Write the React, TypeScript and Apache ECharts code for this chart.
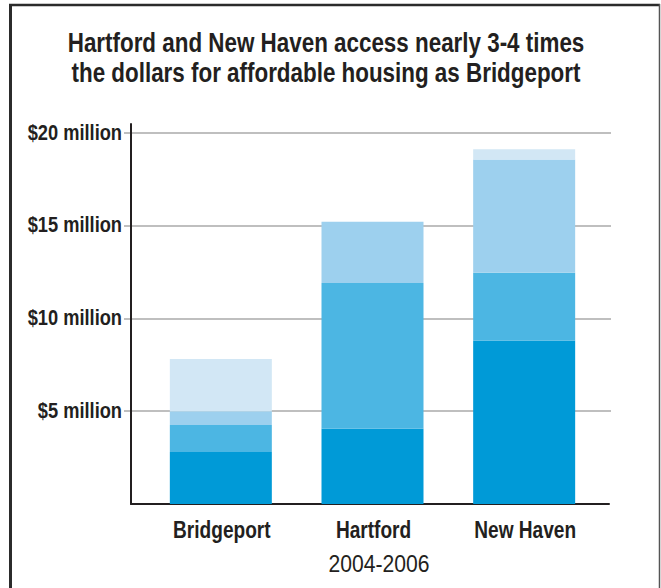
import React, { useEffect, useRef } from "react";
import * as echarts from "echarts";

const categories = ["Bridgeport", "Hartford", "New Haven"];
const seriesNames = ["Source 1", "Source 2", "Source 3", "Source 4"];
const seg1 = [2.8, 4.05, 8.8];
const seg2 = [1.45, 7.85, 3.65];
const seg3 = [0.75, 3.3, 6.1];
const seg4 = [2.8, 0, 0.55];
const yTicks = [0, 5, 10, 15, 20];
const yTickLabels = ["", "$5 million", "$10 million", "$15 million", "$20 million"];
const titleLines = [
  "Hartford and New Haven access nearly 3-4 times",
  "the dollars for affordable housing as Bridgeport",
];
const xAxisCaption = "2004-2006";

const colors = ["#009ad7", "#4cb6e3", "#9dd0ee", "#d2e7f5"];
const FONT = "'Liberation Sans', Arial, sans-serif";
const INK = "#231f20";
const CONDENSE = 0.83;

export default function App() {
  const ref = useRef<HTMLDivElement>(null);
  useEffect(() => {
    if (!ref.current) return;
    const chart = echarts.init(ref.current, undefined, { renderer: "svg" });
    const data = [seg1, seg2, seg3, seg4];
    chart.setOption({
      animation: false,
      backgroundColor: "#ffffff",
      grid: [
        { left: 145, right: 61, top: 132.5, bottom: 84 },
        { left: 124, right: 50, top: 132.5, bottom: 84 },
        { left: 131, right: 52, top: 124, bottom: 84 },
      ],
      xAxis: [
        {
          type: "category",
          gridIndex: 0,
          data: categories,
          axisLine: { show: false },
          axisTick: { show: false },
          axisLabel: { show: false },
        },
        { type: "value", gridIndex: 1, show: false },
        {
          type: "value",
          gridIndex: 2,
          axisLine: { show: true, onZero: false, lineStyle: { color: INK, width: 2 } },
          axisTick: { show: false },
          axisLabel: { show: false },
          splitLine: { show: false },
        },
      ],
      yAxis: [
        { type: "value", gridIndex: 0, min: 0, max: 20, show: false },
        {
          type: "value",
          gridIndex: 1,
          min: 0,
          max: 20,
          interval: 5,
          axisLine: { show: false },
          axisTick: { show: false },
          axisLabel: { show: false },
          splitLine: {
            show: true,
            lineStyle: {
              color: yTicks.map((t) => (t === 0 ? "rgba(0,0,0,0)" : "#aaaaaa")),
              width: 1.5,
            },
          },
        },
        {
          type: "value",
          gridIndex: 2,
          axisLine: { show: true, lineStyle: { color: INK, width: 2 } },
          axisTick: { show: false },
          axisLabel: { show: false },
          splitLine: { show: false },
        },
      ],
      series: data.map((d, i) => ({
        name: seriesNames[i],
        type: "bar",
        stack: "total",
        xAxisIndex: 0,
        yAxisIndex: 0,
        barWidth: 102,
        itemStyle: { color: colors[i] },
        data: d,
        z: 3,
      })),
    });

    const graphics: any[] = [];
    // condensed title lines
    titleLines.forEach((line, i) => {
      graphics.push({
        type: "text",
        x: 326,
        y: 42.5 + i * 30,
        scaleX: CONDENSE,
        style: {
          text: line,
          fontFamily: FONT,
          fontWeight: "bold",
          fontSize: 27,
          fill: INK,
          align: "center",
          verticalAlign: "middle",
        },
      });
    });
    // y tick labels placed through the axis scale
    yTicks.forEach((t, i) => {
      if (!yTickLabels[i]) return;
      const py = chart.convertToPixel({ yAxisIndex: 1 }, t) as number;
      graphics.push({
        type: "text",
        x: 122,
        y: py - 0.5,
        scaleX: CONDENSE,
        style: {
          text: yTickLabels[i],
          fontFamily: FONT,
          fontWeight: "bold",
          fontSize: 22,
          fill: INK,
          align: "right",
          verticalAlign: "middle",
        },
      });
    });
    // category labels placed through the category axis
    categories.forEach((c) => {
      const px = chart.convertToPixel({ xAxisIndex: 0 }, c) as number;
      graphics.push({
        type: "text",
        x: px + 1,
        y: 530,
        scaleX: CONDENSE,
        style: {
          text: c,
          fontFamily: FONT,
          fontWeight: "bold",
          fontSize: 23,
          fill: INK,
          align: "center",
          verticalAlign: "middle",
        },
      });
    });
    graphics.push({
      type: "text",
      x: 379,
      y: 564.5,
      scaleX: 0.88,
      style: {
        text: xAxisCaption,
        fontFamily: FONT,
        fontSize: 24,
        fill: INK,
        align: "center",
        verticalAlign: "middle",
      },
    });
    graphics.push(
      { type: "line", shape: { x1: 10.5, y1: 4, x2: 10.5, y2: 588 }, style: { stroke: "#2b2b2b", lineWidth: 3 } },
      { type: "line", shape: { x1: 9, y1: 5, x2: 660, y2: 5 }, style: { stroke: "#2b2b2b", lineWidth: 2.5 } },
      { type: "line", shape: { x1: 659.5, y1: 4, x2: 659.5, y2: 588 }, style: { stroke: "#555555", lineWidth: 1.5 } }
    );
    chart.setOption({ graphic: graphics });
    return () => chart.dispose();
  }, []);
  return (
    <div
      ref={ref}
      style={{ position: "absolute", left: 0, top: 0, width: 661, height: 588 }}
    />
  );
}
